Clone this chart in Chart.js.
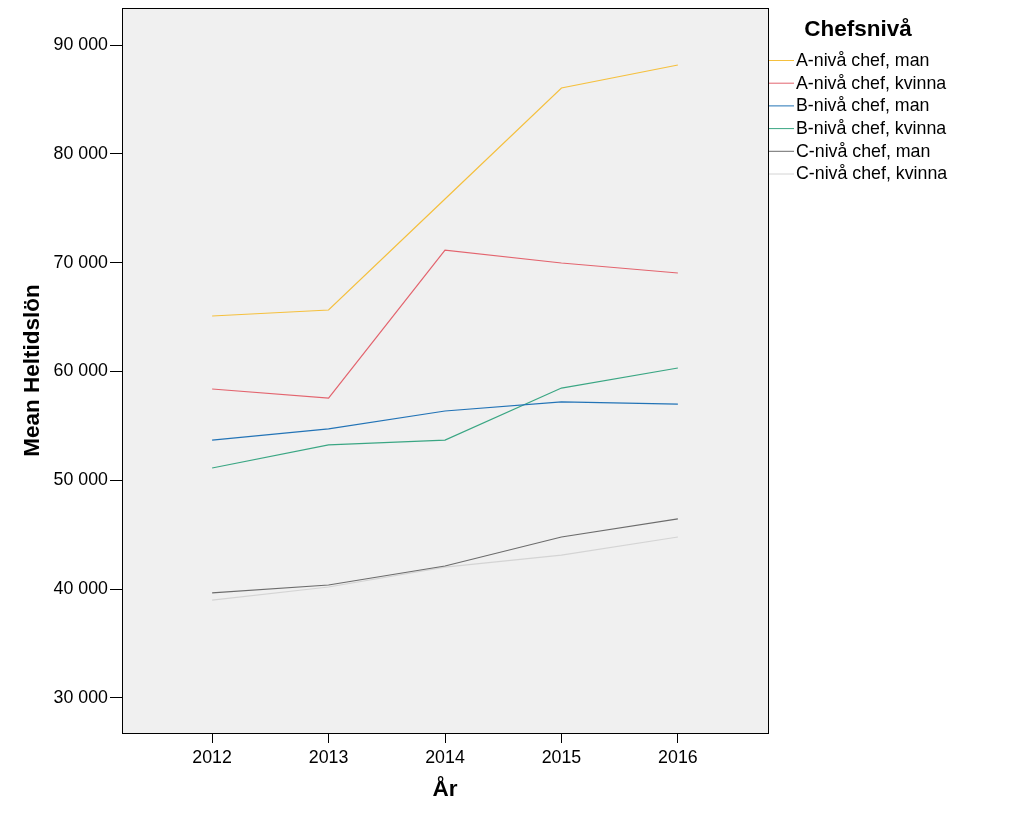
<!DOCTYPE html>
<html>
<head>
<meta charset="utf-8">
<style>
  html, body { margin: 0; padding: 0; background: #fff; }
  #wrap { width: 1024px; height: 820px; }
</style>
<script src="https://cdn.jsdelivr.net/npm/chart.js@4/dist/chart.umd.min.js"></script>
</head>
<body>
<div id="wrap"><canvas id="c" width="1024" height="820"></canvas></div>
<script>
const years = [2012, 2013, 2014, 2015, 2016];
const yTicks = [30000, 40000, 50000, 60000, 70000, 80000, 90000];

const seriesNames = [
    "A-nivå chef, man",
    "A-nivå chef, kvinna",
    "B-nivå chef, man",
    "B-nivå chef, kvinna",
    "C-nivå chef, man",
    "C-nivå chef, kvinna",
];
const aMan = [65100, 65650, 75850, 86050, 88160];
const aKvinna = [58390, 57560, 71160, 69970, 69050];
const bMan = [53700, 54720, 56370, 57200, 57010];
const bKvinna = [51130, 53250, 53700, 58480, 60320];
const cMan = [39650, 40380, 42130, 44790, 46450];
const cKvinna = [39000, 40200, 42030, 43130, 44790];
const seriesColors = ["#f5c03e", "#e3646e", "#2273b6", "#3aa683", "#6c6c6c", "#d4d4d4"];

const allSeries = [aMan, aKvinna, bMan, bKvinna, cMan, cKvinna];
const FONT = "'Liberation Sans', Arial, sans-serif";

function fmt(v) {
    return String(v).replace(/\B(?=(\d{3})+(?!\d))/g, " ");
}

const framePlugin = {
    id: "frame",
    beforeDraw(chart) {
        const { ctx, chartArea: a } = chart;
        ctx.save();
        ctx.fillStyle = "#f0f0f0";
        ctx.fillRect(a.left, a.top, a.right - a.left, a.bottom - a.top);
        ctx.restore();
    },
    afterDraw(chart) {
        const { ctx, chartArea: a } = chart;
        ctx.save();
        ctx.strokeStyle = "#000";
        ctx.lineWidth = 1;
        ctx.strokeRect(a.left + 0.5, a.top + 0.5, a.right - a.left, a.bottom - a.top);

        // legend
        ctx.fillStyle = "#000";
        ctx.font = "bold 22.5px " + FONT;
        ctx.textAlign = "center";
        ctx.textBaseline = "middle";
        ctx.fillText("Chefsnivå", 858, 30);
        ctx.font = "17.8px " + FONT;
        ctx.textAlign = "left";
        seriesNames.forEach((name, i) => {
            const y = 60 + i * 22.7;
            ctx.strokeStyle = seriesColors[i];
            ctx.beginPath();
            ctx.moveTo(769, y + 0.5);
            ctx.lineTo(794, y + 0.5);
            ctx.stroke();
            ctx.fillText(name, 796, y + 1);
        });
        ctx.restore();
    },
};

new Chart(document.getElementById("c"), {
    type: "line",
    data: {
        datasets: allSeries.map((vals, i) => ({
            label: seriesNames[i],
            data: years.map((yr, j) => ({ x: yr, y: vals[j] })),
            borderColor: seriesColors[i],
            borderWidth: 1.2,
            pointRadius: 0,
            tension: 0,
            fill: false,
        })),
    },
    options: {
        responsive: false,
        animation: false,
        layout: { padding: { top: 8, right: 256, left: 0, bottom: 0 } },
        plugins: {
            legend: { display: false },
            tooltip: { enabled: false },
        },
        scales: {
            x: {
                type: "linear",
                min: 2011.226,
                max: 2016.774,
                afterBuildTicks: (s) => { s.ticks = years.map((v) => ({ value: v })); },
                afterFit: (s) => { s.height = 87; s.paddingLeft = 0; s.paddingRight = 0; },
                border: { display: true, color: "#000" },
                grid: { display: true, drawOnChartArea: false, drawTicks: true, tickLength: 10, color: "#000" },
                ticks: {
                    color: "#000",
                    font: { family: FONT, size: 17.8 },
                    padding: 4,
                    maxRotation: 0,
                    callback: (v) => String(v),
                },
                title: {
                    display: true,
                    text: "År",
                    color: "#000",
                    font: { family: FONT, size: 22.5, weight: "bold" },
                    padding: { top: 0, bottom: 16.5 },
                },
            },
            y: {
                min: 26783,
                max: 93400,
                afterBuildTicks: (s) => { s.ticks = yTicks.map((v) => ({ value: v })); },
                afterFit: (s) => { s.width = 122; s.paddingTop = 0; s.paddingBottom = 0; },
                border: { display: true, color: "#000" },
                grid: { display: true, drawOnChartArea: false, drawTicks: true, tickLength: 12, color: "#000" },
                ticks: {
                    color: "#000",
                    font: { family: FONT, size: 17.8 },
                    padding: 2,
                    callback: (v) => fmt(v),
                },
                title: {
                    display: true,
                    text: "Mean Heltidslön",
                    color: "#000",
                    font: { family: FONT, size: 22.5, weight: "bold" },
                    padding: { top: 19.5, bottom: 0 },
                },
            },
        },
    },
    plugins: [framePlugin],
});
</script>
</body>
</html>
